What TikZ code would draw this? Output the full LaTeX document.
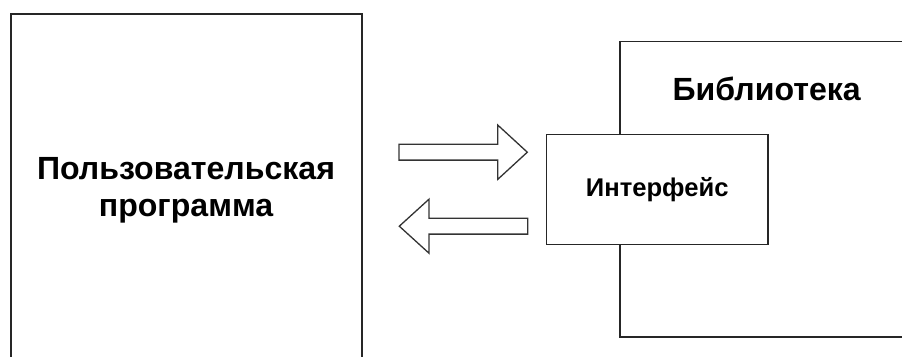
\documentclass[tikz,border=0pt]{standalone}
\usepackage{fontspec}
\setmainfont{Liberation Sans}
\begin{document}
\begin{tikzpicture}[x=1bp,y=-1bp,
  box/.style={draw=black!85, line width=1.2bp, fill=white},
  blockarrow/.style={draw=black!80, line width=1.3bp, fill=white, line join=miter},
  bigtext/.style={font=\bfseries\fontsize{32.2}{36.6}\selectfont, align=center, inner sep=0pt},
  smalltext/.style={font=\bfseries\fontsize{25.7}{30}\selectfont, inner sep=0pt}]
\useasboundingbox (0,0) rectangle (902,356);
\clip (0,0) rectangle (902,356);

% user program (runs past the lower edge)
\draw[box] (11,14) rectangle (362,380);
\node[bigtext] (prog) at (186,190.5) {Пользовательская\\программа};

% library (runs past the right edge)
\draw[box] (620,41.7) rectangle (930,337);
\node[bigtext, anchor=base] (lib) at (766.7,100.7) {Библиотека};

% interface on top of the library
\node[box, minimum width=221.5bp, minimum height=110bp, inner sep=0pt] (iface) at (657.2,189.5) {};
\node[smalltext] at (iface.center) {Интерфейс};

% call arrow: program -> interface
\coordinate (r0) at (399,152.2);
\draw[blockarrow] (r0) ++(0,-7.9) -- ++(98.7,0) -- ++(0,-19.3) -- (527.3,152.2)
  -- (497.7,179.4) -- ++(0,-19.3) -- (399,160.1) -- cycle;

% return arrow: interface -> program
\coordinate (l0) at (527.7,226.2);
\draw[blockarrow] (l0) ++(0,-7.9) -- (429,218.3) -- (429,199.2) -- (399.3,226.2)
  -- (429,253.2) -- (429,234.1) -- (527.7,234.1) -- cycle;
\end{tikzpicture}
\end{document}
